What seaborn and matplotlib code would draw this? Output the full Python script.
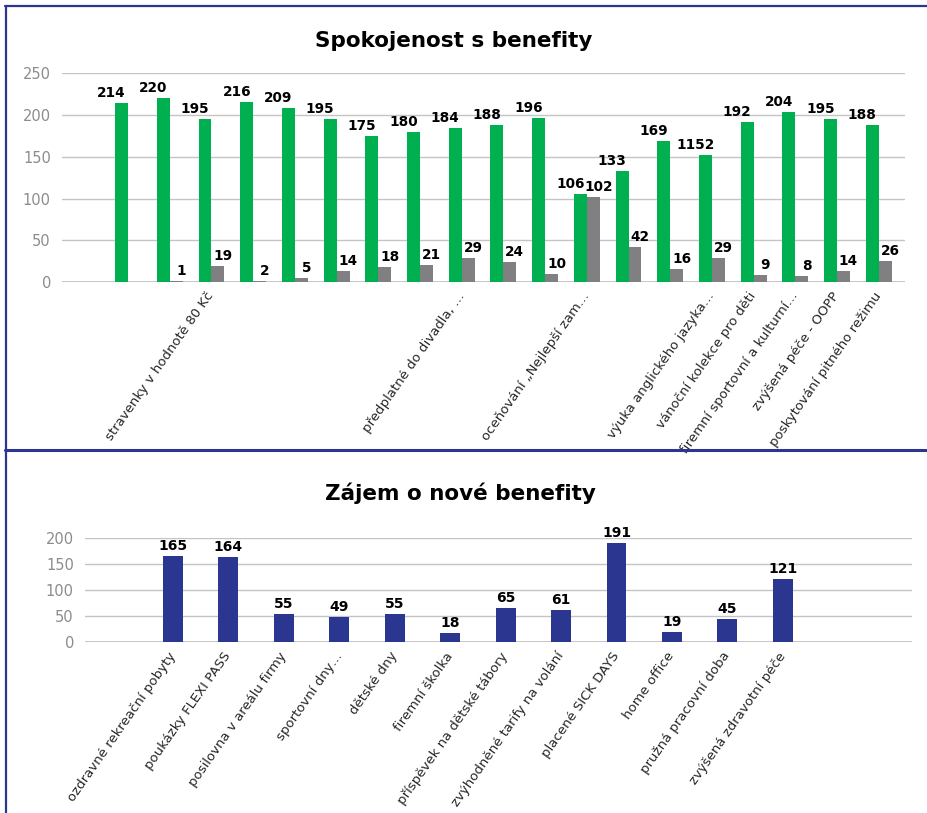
import numpy as np
import pandas as pd
import matplotlib
matplotlib.use("Agg")
import matplotlib.pyplot as plt
import matplotlib.transforms as mtransforms
from matplotlib.lines import Line2D
import seaborn as sns

# Spokojenost s benefity (green = spokojen, gray = nespokojen)
top_labels = ["", "", "", "stravenky v hodnotě 80 Kč", "", "", "", "", "",
              "předplatné do divadla, …", "", "", "oceňování „Nejlepší zam…",
              "", "", "výuka anglického jazyka…", "vánoční kolekce pro děti",
              "firemní sportovní a kulturní…", "zvýšená péče - OOPP",
              "poskytování pitného režimu"]
green_vals = [np.nan, 214, 220, 195, 216, 209, 195, 175, 180, 184,
              188, 196, 106, 133, 169, 152, 192, 204, 195, 188]
gray_vals = [np.nan, np.nan, 1, 19, 2, 5, 14, 18, 21, 29,
             24, 10, 102, 42, 16, 29, 9, 8, 14, 26]

# Zájem o nové benefity
bottom_labels = ["", "ozdravné rekreační pobyty", "poukázky FLEXI PASS",
                 "posilovna v areálu firmy", "sportovní dny…", "dětské dny",
                 "firemní školka", "příspěvek na dětské tábory",
                 "zvýhodněné tarify na volání", "placené SICK DAYS",
                 "home office", "pružná pracovní doba",
                 "zvýšená zdravotní péče", "", ""]
bottom_vals = [np.nan, 165, 164, 55, 49, 55, 18, 65, 61, 191, 19, 45, 121,
               np.nan, np.nan]

GREEN = "#00B050"
GRAY = "#808083"
BLUE = "#2B3690"
GRID = "#C4C4C4"
TICK = "#8C8C8C"

sns.set_style("white")
plt.rcParams["font.family"] = ["DejaVu Sans"]

fig = plt.figure(figsize=(9.27, 8.13), dpi=100)

# ---------- top chart ----------
n_top = len(top_labels)
df_top = pd.DataFrame({
    "pos": list(range(n_top)) * 2,
    "value": green_vals + gray_vals,
    "serie": ["spokojen"] * n_top + ["nespokojen"] * n_top,
})
green_text = ["" if np.isnan(v) else f"{v:g}" for v in green_vals]
green_text[15] = "1152"  # label as it appears in the source
gray_text = ["" if np.isnan(v) else f"{v:g}" for v in gray_vals]

ax1 = fig.add_axes([62 / 927, 1 - 282.3 / 813, 843 / 927, 209 / 813])
sns.barplot(data=df_top, x="pos", y="value", hue="serie",
            order=list(range(n_top)), hue_order=["spokojen", "nespokojen"],
            palette={"spokojen": GREEN, "nespokojen": GRAY}, saturation=1,
            width=0.62, errorbar=None, legend=False, linewidth=0, ax=ax1)
ax1.set_ylim(0, 250)
ax1.set_xlim(-0.584, 19.63)
ax1.set_yticks([0, 50, 100, 150, 200, 250])

for cont, texts, dx in zip(ax1.containers, [green_text, gray_text], [-10, 5]):
    for p in cont:
        if np.isnan(p.get_height()):
            continue
        idx = int(round(p.get_x() + p.get_width() / 2 + (0.155 if dx < 0 else -0.155)))
        ax1.annotate(texts[idx], (p.get_x() + p.get_width() / 2, p.get_height()),
                     xytext=(dx, 3), textcoords="offset pixels",
                     ha="center", va="bottom", fontsize=9.8,
                     fontweight="bold", color="black")

# ---------- bottom chart ----------
n_bot = len(bottom_labels)
df_bot = pd.DataFrame({"pos": list(range(n_bot)), "value": bottom_vals})

ax2 = fig.add_axes([85 / 927, 1 - 642.3 / 813, 827 / 927, 104.3 / 813])
sns.barplot(data=df_bot, x="pos", y="value", order=list(range(n_bot)),
            color=BLUE, saturation=1, width=0.36, errorbar=None,
            linewidth=0, ax=ax2)
ax2.set_ylim(0, 200)
ax2.set_xlim(-0.587, 14.33)
ax2.set_yticks([0, 50, 100, 150, 200])

for p in ax2.containers[0]:
    if np.isnan(p.get_height()):
        continue
    ax2.annotate(f"{p.get_height():g}", (p.get_x() + p.get_width() / 2, p.get_height()),
                 xytext=(0, 3), textcoords="offset pixels",
                 ha="center", va="bottom", fontsize=10,
                 fontweight="bold", color="black")

# shared styling
shift = mtransforms.ScaledTranslation(-5 / 100, 0, fig.dpi_scale_trans)
for ax, labels in [(ax1, top_labels), (ax2, bottom_labels)]:
    for s in ax.spines.values():
        s.set_visible(False)
    ax.yaxis.grid(True, color=GRID, linewidth=1)
    ax.set_axisbelow(True)
    ax.set_xlabel("")
    ax.set_ylabel("")
    ax.set_xticks(range(len(labels)))
    ax.set_xticklabels(labels, rotation=55, ha="right", va="center",
                       rotation_mode="anchor", fontsize=9.5, color="#262626")
    for lbl in ax.get_xticklabels():
        lbl.set_transform(lbl.get_transform() + shift)
    ax.tick_params(axis="x", length=0, pad=8)
    ax.tick_params(axis="y", length=0, pad=8, labelsize=10.5, labelcolor=TICK)
    ax.axhline(0, color=GRID, linewidth=1.3, zorder=0.5)

fig.text(454 / 927, 1 - 47 / 813, "Spokojenost s benefity", ha="center",
         va="baseline", fontsize=15.5, fontweight="bold", color="black")
fig.text(460 / 927, 1 - 500 / 813, "Zájem o nové benefity", ha="center",
         va="baseline", fontsize=15.5, fontweight="bold", color="black")

# frame lines
fig.add_artist(Line2D([5 / 927, 1], [1 - 6 / 813, 1 - 6 / 813], color=BLUE, lw=1.6))
fig.add_artist(Line2D([6 / 927, 6 / 927], [0, 1 - 6 / 813], color=BLUE, lw=1.6))
fig.add_artist(Line2D([5 / 927, 1], [1 - 450 / 813, 1 - 450 / 813], color=BLUE, lw=2.2))

fig.savefig("out.png", dpi=100)
